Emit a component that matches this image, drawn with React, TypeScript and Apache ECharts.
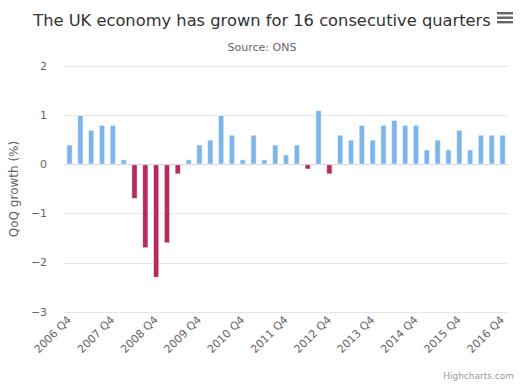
import React, { useEffect, useRef } from "react";
import * as echarts from "echarts";

const categories = [
  "2006 Q4",
  "2007 Q1", "2007 Q2", "2007 Q3", "2007 Q4",
  "2008 Q1", "2008 Q2", "2008 Q3", "2008 Q4",
  "2009 Q1", "2009 Q2", "2009 Q3", "2009 Q4",
  "2010 Q1", "2010 Q2", "2010 Q3", "2010 Q4",
  "2011 Q1", "2011 Q2", "2011 Q3", "2011 Q4",
  "2012 Q1", "2012 Q2", "2012 Q3", "2012 Q4",
  "2013 Q1", "2013 Q2", "2013 Q3", "2013 Q4",
  "2014 Q1", "2014 Q2", "2014 Q3", "2014 Q4",
  "2015 Q1", "2015 Q2", "2015 Q3", "2015 Q4",
  "2016 Q1", "2016 Q2", "2016 Q3", "2016 Q4",
];

const growth = [
  0.4,
  1.0, 0.7, 0.8, 0.8,
  0.1, -0.7, -1.7, -2.3,
  -1.6, -0.2, 0.1, 0.4,
  0.5, 1.0, 0.6, 0.1,
  0.6, 0.1, 0.4, 0.2,
  0.4, -0.1, 1.1, -0.2,
  0.6, 0.5, 0.8, 0.5,
  0.8, 0.9, 0.8, 0.8,
  0.3, 0.5, 0.3, 0.7,
  0.3, 0.6, 0.6, 0.6,
];

const FONT = "DejaVu Sans";
const POS = "#7cb5ec";
const NEG = "#b52b5e";

export default function App() {
  const ref = useRef<HTMLDivElement>(null);
  useEffect(() => {
    if (!ref.current) return;
    const chart = echarts.init(ref.current, undefined, { renderer: "svg" });
    chart.setOption({
      animation: false,
      backgroundColor: "#ffffff",
      textStyle: { fontFamily: FONT },
      title: [
        {
          text: "The UK economy has grown for 16 consecutive quarters",
          left: 257,
          textAlign: "center",
          top: 7,
          textStyle: { fontFamily: FONT, fontSize: 16.3, fontWeight: "normal", color: "#333333" },
        },
        {
          text: "Source: ONS",
          left: 257,
          textAlign: "center",
          top: 37,
          textStyle: { fontFamily: FONT, fontSize: 11, fontWeight: "normal", color: "#666666" },
        },
        {
          text: "Highcharts.com",
          right: 10,
          bottom: 5,
          textStyle: { fontFamily: FONT, fontSize: 9, fontWeight: "normal", color: "#999999" },
        },
      ],
      graphic: [
        { type: "rect", shape: { x: 497, y: 12, width: 16, height: 2.4 }, style: { fill: "#666666" } },
        { type: "rect", shape: { x: 497, y: 16.5, width: 16, height: 2.4 }, style: { fill: "#666666" } },
        { type: "rect", shape: { x: 497, y: 21, width: 16, height: 2.4 }, style: { fill: "#666666" } },
      ],
      grid: { left: 56.5, right: 21, top: 66, bottom: 78, containLabel: false },
      xAxis: {
        type: "category",
        data: categories,
        axisLine: { lineStyle: { color: "#ccd6eb" } },
        axisTick: { alignWithLabel: true, interval: 3, length: 10, lineStyle: { color: "#ccd6eb" } },
        axisLabel: {
          interval: 3,
          rotate: 45,
          color: "#666666",
          fontSize: 11,
          fontFamily: FONT,
          margin: 6,
        },
        splitLine: { show: false },
      },
      yAxis: {
        type: "value",
        min: -3,
        max: 2,
        interval: 1,
        name: "QoQ growth (%)",
        nameLocation: "middle",
        nameGap: 32,
        nameTextStyle: { color: "#666666", fontSize: 12, fontFamily: FONT },
        axisLine: { show: false },
        axisTick: { show: false },
        axisLabel: {
          color: "#666666",
          fontSize: 11,
          fontFamily: FONT,
          margin: 17,
          formatter: (v: number) => (v < 0 ? "\u2212" + Math.abs(v) : String(v)),
        },
        splitLine: { lineStyle: { color: "#e6e6e6" } },
      },
      series: [
        {
          type: "bar",
          data: growth,
          barWidth: 6,
          itemStyle: {
            color: (p: any) => (p.value < 0 ? NEG : POS),
            borderColor: "#ffffff",
            borderWidth: 0.6,
          },
        },
      ],
    });
    return () => chart.dispose();
  }, []);
  return (
    <div
      ref={ref}
      style={{ position: "absolute", left: 0, top: 0, width: 529, height: 390 }}
    />
  );
}
